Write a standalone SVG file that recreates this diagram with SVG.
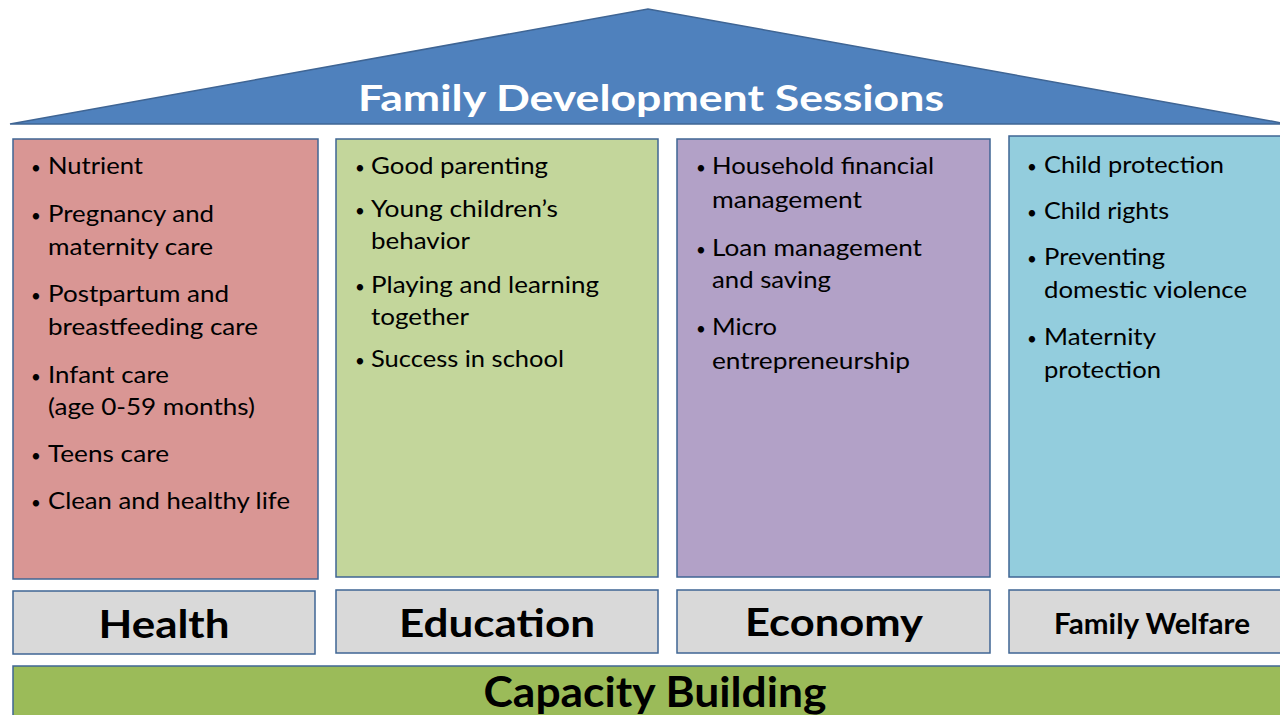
<svg xmlns="http://www.w3.org/2000/svg" width="1280" height="715" viewBox="0 0 1280 715">
<style>
.box{stroke:#3F6594;stroke-width:1.5}
.t{font-family:Lato,"Open Sans","Liberation Sans",sans-serif;font-size:24px;fill:#000}
.b{font-family:Lato,"Open Sans","Liberation Sans",sans-serif;font-size:17px;fill:#000;text-anchor:middle}
.lab{font-family:Lato,"Open Sans","Liberation Sans",sans-serif;font-weight:bold;fill:#000;text-anchor:middle}
</style>
<rect width="1280" height="715" fill="#fff"/>
<g id="roof">
<polygon points="10,124 648,9 1282,123 1282,124" fill="#4F81BD" stroke="#3F6594" stroke-width="1.5"/>
<text x="358" y="111" font-family="Lato,'Open Sans','Liberation Sans',sans-serif" font-weight="bold" font-size="37" fill="#fff" textLength="586" lengthAdjust="spacingAndGlyphs">Family Development Sessions</text>
</g>
<g id="health">
<rect class="box" x="13" y="139" width="305" height="440" fill="#D99694"/>
<text class="b" x="36" y="174">•</text><text class="t" x="48" y="174" textLength="95" lengthAdjust="spacingAndGlyphs">Nutrient</text>
<text class="b" x="36" y="222">•</text><text class="t" x="48" y="222" textLength="166" lengthAdjust="spacingAndGlyphs">Pregnancy and</text>
<text class="t" x="48" y="255" textLength="165" lengthAdjust="spacingAndGlyphs">maternity care</text>
<text class="b" x="36" y="302">•</text><text class="t" x="48" y="302" textLength="181" lengthAdjust="spacingAndGlyphs">Postpartum and</text>
<text class="t" x="48" y="335" textLength="210" lengthAdjust="spacingAndGlyphs">breastfeeding care</text>
<text class="b" x="36" y="383">•</text><text class="t" x="48" y="383" textLength="121" lengthAdjust="spacingAndGlyphs">Infant care</text>
<text class="t" x="48" y="415" textLength="207" lengthAdjust="spacingAndGlyphs">(age 0-59 months)</text>
<text class="b" x="36" y="462">•</text><text class="t" x="48" y="462" textLength="121" lengthAdjust="spacingAndGlyphs">Teens care</text>
<text class="b" x="36" y="509">•</text><text class="t" x="48" y="509" textLength="242" lengthAdjust="spacingAndGlyphs">Clean and healthy life</text>
</g>
<g id="education">
<rect class="box" x="336" y="139" width="322" height="438" fill="#C3D69B"/>
<text class="b" x="360" y="174">•</text><text class="t" x="371" y="174" textLength="177" lengthAdjust="spacingAndGlyphs">Good parenting</text>
<text class="b" x="360" y="217">•</text><text class="t" x="371" y="217" textLength="187" lengthAdjust="spacingAndGlyphs">Young children’s</text>
<text class="t" x="371" y="249" textLength="99" lengthAdjust="spacingAndGlyphs">behavior</text>
<text class="b" x="360" y="293">•</text><text class="t" x="371" y="293" textLength="228" lengthAdjust="spacingAndGlyphs">Playing and learning</text>
<text class="t" x="371" y="325" textLength="98" lengthAdjust="spacingAndGlyphs">together</text>
<text class="b" x="360" y="367">•</text><text class="t" x="371" y="367" textLength="193" lengthAdjust="spacingAndGlyphs">Success in school</text>
</g>
<g id="economy">
<rect class="box" x="677" y="139" width="313" height="438" fill="#B2A1C7"/>
<text class="b" x="701" y="174">•</text><text class="t" x="712" y="174" textLength="222" lengthAdjust="spacingAndGlyphs">Household financial</text>
<text class="t" x="712" y="208" textLength="150" lengthAdjust="spacingAndGlyphs">management</text>
<text class="b" x="701" y="256">•</text><text class="t" x="712" y="256" textLength="210" lengthAdjust="spacingAndGlyphs">Loan management</text>
<text class="t" x="712" y="288" textLength="119" lengthAdjust="spacingAndGlyphs">and saving</text>
<text class="b" x="701" y="335">•</text><text class="t" x="712" y="335" textLength="65" lengthAdjust="spacingAndGlyphs">Micro</text>
<text class="t" x="712" y="369" textLength="198" lengthAdjust="spacingAndGlyphs">entrepreneurship</text>
</g>
<g id="welfare">
<rect class="box" x="1009" y="136" width="280" height="441" fill="#93CDDD"/>
<text class="b" x="1032" y="173">•</text><text class="t" x="1044" y="173" textLength="180" lengthAdjust="spacingAndGlyphs">Child protection</text>
<text class="b" x="1032" y="219">•</text><text class="t" x="1044" y="219" textLength="125" lengthAdjust="spacingAndGlyphs">Child rights</text>
<text class="b" x="1032" y="265">•</text><text class="t" x="1044" y="265" textLength="121" lengthAdjust="spacingAndGlyphs">Preventing</text>
<text class="t" x="1044" y="298" textLength="203" lengthAdjust="spacingAndGlyphs">domestic violence</text>
<text class="b" x="1032" y="345">•</text><text class="t" x="1044" y="345" textLength="112" lengthAdjust="spacingAndGlyphs">Maternity</text>
<text class="t" x="1044" y="378" textLength="117" lengthAdjust="spacingAndGlyphs">protection</text>
</g>
<g id="health-label">
<rect class="box" x="13" y="591" width="302" height="63" fill="#D9D9D9"/>
<text class="lab" x="164" y="638" font-size="39" textLength="131" lengthAdjust="spacingAndGlyphs">Health</text>
</g>
<g id="education-label">
<rect class="box" x="336" y="590" width="322" height="63" fill="#D9D9D9"/>
<text class="lab" x="497" y="637" font-size="39" textLength="196" lengthAdjust="spacingAndGlyphs">Education</text>
</g>
<g id="economy-label">
<rect class="box" x="677" y="590" width="313" height="63" fill="#D9D9D9"/>
<text class="lab" x="834" y="636" font-size="39" textLength="178" lengthAdjust="spacingAndGlyphs">Economy</text>
</g>
<g id="welfare-label">
<rect class="box" x="1009" y="590" width="280" height="63" fill="#D9D9D9"/>
<text class="lab" x="1152" y="634" font-size="29" textLength="196" lengthAdjust="spacingAndGlyphs">Family Welfare</text>
</g>
<g id="capacity-building">
<rect class="box" x="13" y="666" width="1280" height="60" fill="#9BBB59"/>
<text class="lab" x="655" y="707" font-size="42" textLength="343" lengthAdjust="spacingAndGlyphs">Capacity Building</text>
</g>
<g id="connectors"/>
</svg>
